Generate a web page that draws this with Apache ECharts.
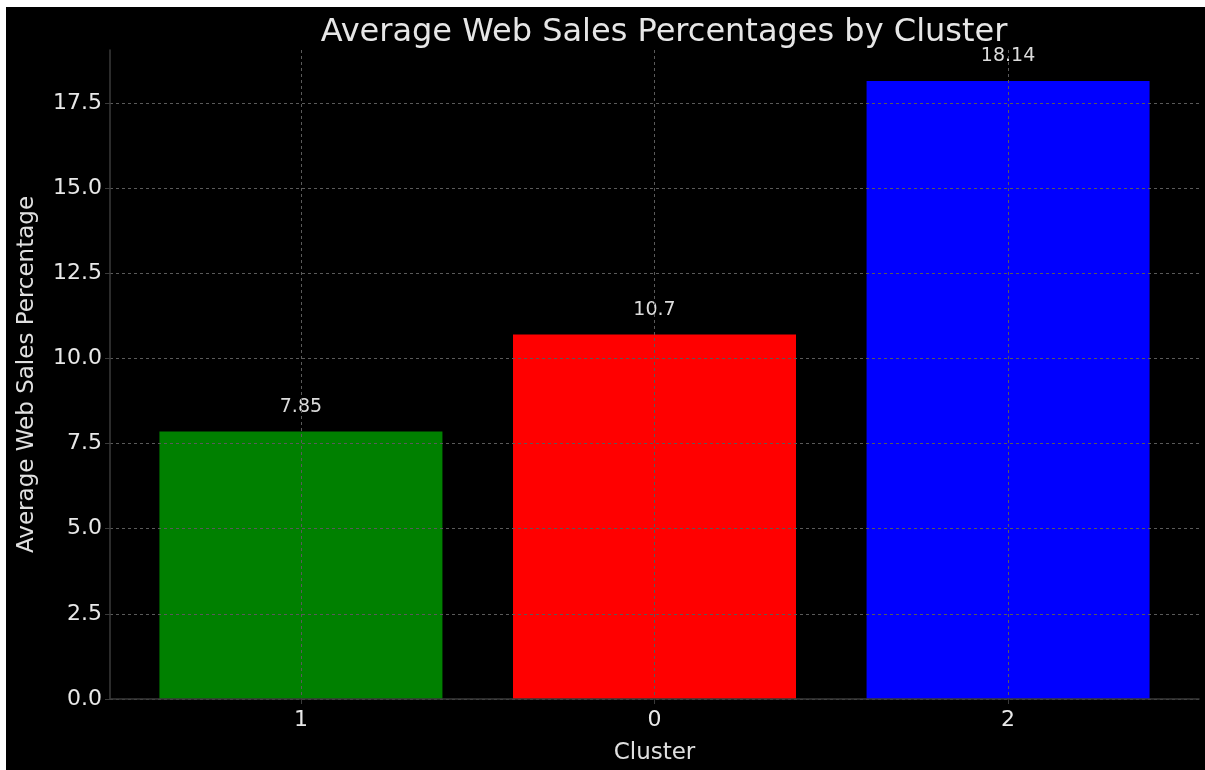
<!DOCTYPE html>
<html>
<head>
<meta charset="utf-8">
<script src="https://cdn.jsdelivr.net/npm/echarts@6/dist/echarts.min.js"></script>
<style>
    html, body { margin: 0; padding: 0; background: #fff; }
    #chart {
        position: absolute;
        left: 6px;
        top: 7px;
        right: 0;
        bottom: 0;
        background: #000;
    }
</style>
</head>
<body>
<div id="chart"></div>
<script>
const clusters = ['1', '0', '2'];
const webSales = [7.85, 10.7, 18.14];
const barColors = ['#008000', '#ff0000', '#0000ff'];
const yTicks = [0, 2.5, 5, 7.5, 10, 12.5, 15, 17.5];

const chart = echarts.init(document.getElementById('chart'));
const font = 'DejaVu Sans';

const positions = clusters.map((c, i) => i);
const gridLine = { show: true, lineStyle: { color: '#5a5a5a', type: [3, 3], width: 1 } };

chart.setOption({
    backgroundColor: '#000',
    animation: false,
    title: {
        text: 'Average Web Sales Percentages by Cluster',
        left: 653,
        textAlign: 'center',
        top: 5,
        textStyle: { color: '#e6e6e6', fontFamily: font, fontSize: 32, fontWeight: 'normal' }
    },
    grid: { left: 104, right: 6, top: 43, bottom: 69 },
    xAxis: {
        type: 'value',
        z: 3,
        min: -0.54,
        max: 2.54,
        name: 'Cluster',
        nameLocation: 'middle',
        nameGap: 43,
        nameTextStyle: { color: '#e0e0e0', fontFamily: font, fontSize: 23 },
        axisLine: { show: true, onZero: false, lineStyle: { color: '#3a3a3a', width: 1.5 } },
        axisTick: { show: true, customValues: positions, length: 5, lineStyle: { color: '#3a3a3a' } },
        axisLabel: {
            customValues: positions,
            color: '#e8e8e8',
            fontFamily: font,
            fontSize: 22,
            margin: 10,
            formatter: v => clusters[Math.round(v)]
        },
        splitLine: gridLine
    },
    yAxis: {
        type: 'value',
        z: 3,
        min: 0,
        max: 19.05,
        name: 'Average Web Sales Percentage',
        nameLocation: 'middle',
        nameGap: 71,
        nameTextStyle: { color: '#e0e0e0', fontFamily: font, fontSize: 23 },
        axisLine: { show: true, onZero: false, lineStyle: { color: '#3a3a3a', width: 1.5 } },
        axisTick: { show: true, customValues: yTicks, length: 5, lineStyle: { color: '#3a3a3a' } },
        axisLabel: {
            customValues: yTicks,
            color: '#e8e8e8',
            fontFamily: font,
            fontSize: 22,
            margin: 8,
            formatter: v => v.toFixed(1)
        },
        splitLine: gridLine
    },
    series: [{
        type: 'bar',
        z: 1,
        barWidth: 283,
        data: webSales.map((v, i) => ({ value: [i, v], itemStyle: { color: barColors[i] } })),
        label: {
            show: true,
            position: 'top',
            distance: 15,
            color: '#dcdcdc',
            fontFamily: font,
            fontSize: 19,
            formatter: p => String(p.value[1])
        }
    }]
});
</script>
</body>
</html>
